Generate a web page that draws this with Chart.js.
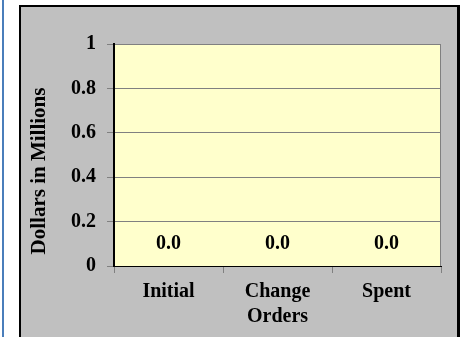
<!DOCTYPE html>
<html>
<head>
<meta charset="utf-8">
<script src="https://cdn.jsdelivr.net/npm/chart.js@4/dist/chart.umd.min.js"></script>
<style>
  html, body { margin: 0; padding: 0; background: #fff; }
  canvas { display: block; }
</style>
</head>
<body>
<canvas id="chart" width="463" height="337"></canvas>
<script>
// chart data
const categories = ['Initial', ['Change', 'Orders'], 'Spent'];
const values = [0, 0, 0];
const yTicks = [0, 0.2, 0.4, 0.6, 0.8, 1];
const yTickLabels = ['0', '0.2', '0.4', '0.6', '0.8', '1'];
const yTitle = 'Dollars in Millions';

const FONT = '"Liberation Serif", "Times New Roman", serif';

// Draw the page, the gray frame and the yellow plot area behind the chart
const backgroundPlugin = {
    id: 'background',
    beforeDraw(chart) {
        const ctx = chart.ctx;
        const area = chart.chartArea;
        ctx.save();
        ctx.fillStyle = '#ffffff';
        ctx.fillRect(0, 0, chart.width, chart.height);

        // blue line down the left edge
        ctx.fillStyle = '#4a7ebb';
        ctx.fillRect(2, 0, 2, chart.height);

        // gray frame with black border
        ctx.fillStyle = '#000000';
        ctx.fillRect(19, 5, 441, chart.height);
        ctx.fillStyle = '#c0c0c0';
        ctx.fillRect(21, 7, 436, chart.height);

        // plot area
        ctx.fillStyle = '#ffffcc';
        ctx.fillRect(area.left, area.top, area.right - area.left, area.bottom - area.top);
        ctx.strokeStyle = '#808080';
        ctx.lineWidth = 1;
        ctx.strokeRect(area.left + 0.5, area.top + 0.5, area.right - area.left - 1, area.bottom - area.top);
        ctx.restore();
    }
};

// Value labels above each bar and the rotated axis title
const labelsPlugin = {
    id: 'valueLabels',
    afterDraw(chart) {
        const ctx = chart.ctx;
        const meta = chart.getDatasetMeta(0);
        ctx.save();
        ctx.font = 'bold 20px ' + FONT;
        ctx.fillStyle = '#000';
        ctx.textAlign = 'center';
        ctx.textBaseline = 'middle';
        meta.data.forEach((bar, i) => {
            ctx.fillText(values[i].toFixed(1), bar.x, bar.y - 22);
        });

        // y axis title
        ctx.font = 'bold 21px ' + FONT;
        ctx.translate(40, 171);
        ctx.rotate(-Math.PI / 2);
        ctx.fillText(yTitle, 0, 0);
        ctx.restore();
    }
};

new Chart(document.getElementById('chart'), {
    type: 'bar',
    data: {
        labels: categories,
        datasets: [{
            data: values,
            backgroundColor: '#9999ff',
            borderWidth: 0
        }]
    },
    options: {
        responsive: false,
        animation: false,
        devicePixelRatio: 1,
        layout: {
            padding: { left: 24, right: 22, top: 44, bottom: 0 }
        },
        plugins: {
            legend: { display: false },
            tooltip: { enabled: false }
        },
        scales: {
            x: {
                afterFit(scale) { scale.height = 71; },
                grid: {
                    offset: true,
                    drawOnChartArea: false,
                    color: '#808080',
                    tickLength: 7
                },
                border: { color: '#000', width: 1 },
                ticks: {
                    color: '#000',
                    padding: 6,
                    maxRotation: 0,
                    font: { family: FONT, size: 20, weight: 'bold', lineHeight: 1.25 }
                }
            },
            y: {
                min: 0,
                max: 1,
                afterFit(scale) { scale.width = 90; },
                afterBuildTicks(scale) {
                    scale.ticks = yTicks.map(v => ({ value: v }));
                },
                grid: {
                    color: '#808080',
                    tickLength: 7
                },
                border: { color: '#000', width: 2 },
                ticks: {
                    color: '#000',
                    padding: 11,
                    font: { family: FONT, size: 20, weight: 'bold' },
                    callback: (value, i) => yTickLabels[i]
                }
            }
        }
    },
    plugins: [backgroundPlugin, labelsPlugin]
});
</script>
</body>
</html>
